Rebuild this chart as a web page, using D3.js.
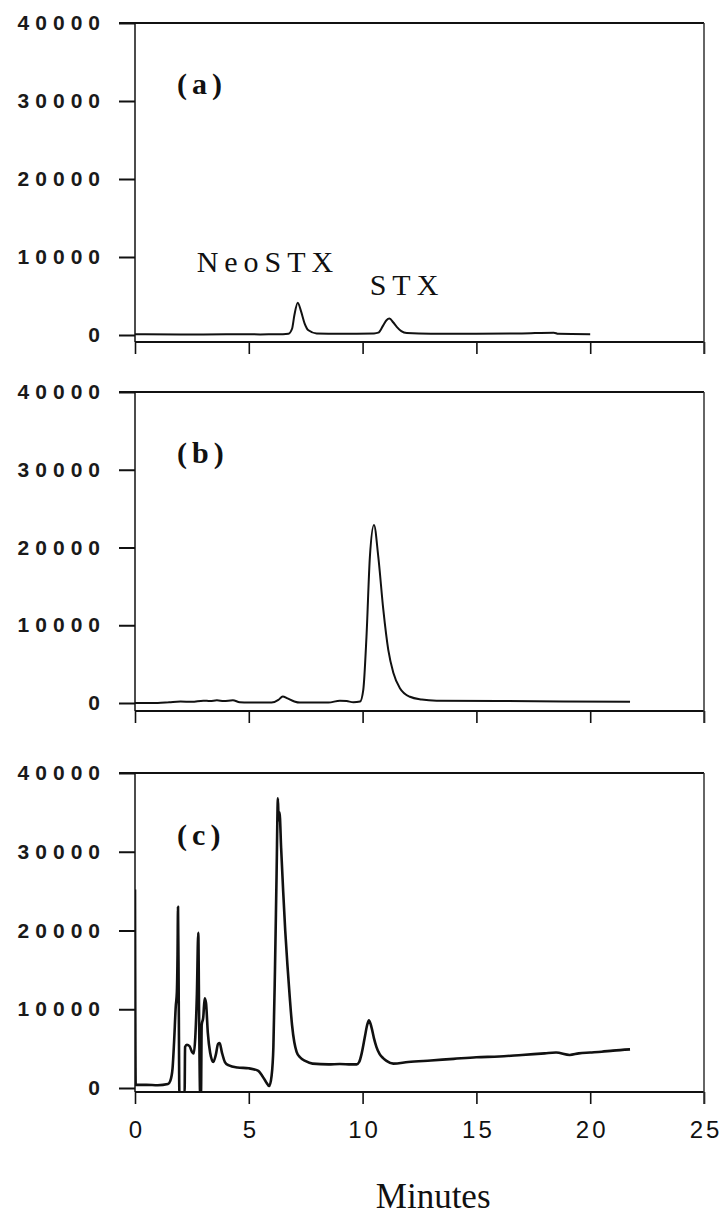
<!DOCTYPE html>
<html>
<head>
<meta charset="utf-8">
<script src="https://cdn.jsdelivr.net/npm/d3@7"></script>
<style>
  html, body { margin: 0; padding: 0; background: #fff; }
  svg { display: block; }
  .ylab text { font-family: "Liberation Sans", Arial, sans-serif; font-size: 21px; font-weight: bold; letter-spacing: 6px; fill: #1a1a1a; }
  .xlab text { font-family: "Liberation Sans", Arial, sans-serif; font-size: 24px; letter-spacing: 3px; fill: #111; }
  .tag { font-family: "Liberation Serif", "Times New Roman", serif; fill: #111; }
</style>
</head>
<body>
<svg id="chart" width="722" height="1217"></svg>
<script>
// Retention time axis (minutes) and detector response axis
const xTicks = [0, 5, 10, 15, 20, 25];
const yTicks = [0, 10000, 20000, 30000, 40000];
const panelNames = ["(a)", "(b)", "(c)"];
const peakNames = ["NeoSTX", "STX"];
const peakNameTimes = [5.71, 11.82];
const peakNameValues = [8100, 5150];

// (a) standard mixture: NeoSTX and STX
const traceA = [
  [0, 100], [2, 50], [4, 100], [5.5, 80], [6.5, 100], [6.74, 150], [6.9, 800], [7.0, 2500],
  [7.15, 4150], [7.3, 3000], [7.45, 1500], [7.62, 600], [7.98, 200], [9, 150], [10.5, 200],
  [10.69, 300], [10.9, 1200], [11.05, 1900], [11.18, 2100], [11.35, 1600], [11.5, 1050],
  [11.7, 500], [11.94, 250], [13, 150], [15, 150], [17, 200], [18.4, 300], [18.6, 150], [20, 100]
];

// (b) sample dominated by STX
const traceB = [
  [0, 0], [1.0, 0], [1.5, 100], [2.0, 200], [2.5, 150], [3.0, 300], [3.3, 250], [3.6, 350],
  [3.9, 250], [4.3, 350], [4.6, 100], [5.0, 50], [6.0, 50], [6.3, 400], [6.49, 850], [6.7, 600],
  [7.0, 200], [7.25, 50], [8.5, 50], [9.0, 300], [9.3, 250], [9.6, 100], [9.89, 200],
  [10.03, 1700], [10.17, 8500], [10.32, 18800], [10.5, 22900], [10.69, 18800], [10.91, 12000],
  [11.13, 6800], [11.35, 3900], [11.64, 1900], [12.08, 800], [12.6, 450], [13.25, 300],
  [16, 250], [21.75, 150]
];

// (c) extract with early-eluting interferences
const traceC = [
  [0, 25200], [0.03, 400], [0.5, 400], [1.0, 350], [1.45, 500],
  [1.55, 900], [1.65, 2500], [1.72, 6000], [1.79, 10300], [1.84, 12200], [1.87, 17000],
  [1.89, 23000], [1.92, 12000], [1.95, -600], [2.18, -600], [2.2, 5200], [2.28, 5500],
  [2.4, 5300], [2.5, 4600], [2.58, 4400], [2.65, 6500], [2.72, 12000], [2.78, 19700],
  [2.82, 8000], [2.86, -600], [2.9, -600], [2.93, 8000], [3.0, 9000], [3.06, 11400],
  [3.12, 10800], [3.2, 7000], [3.3, 4500], [3.44, 3300], [3.55, 4200], [3.65, 5600],
  [3.72, 5700], [3.82, 4500], [3.95, 3300], [4.1, 2900], [4.5, 2600], [5.0, 2500], [5.4, 2200],
  [5.6, 1500], [5.75, 800], [5.9, 250], [6.0, 1500], [6.08, 5200], [6.15, 15000], [6.22, 27000],
  [6.28, 36800], [6.31, 34000], [6.35, 35000], [6.42, 30500], [6.51, 25000], [6.6, 20000],
  [6.7, 15500], [6.8, 11500], [6.9, 8000], [7.0, 5800], [7.1, 4600], [7.25, 3900], [7.5, 3400],
  [7.8, 3100], [8.5, 3000], [9.0, 3050], [9.5, 3000], [9.74, 3000], [9.85, 3300], [9.96, 4400],
  [10.1, 6500], [10.2, 8000], [10.28, 8600], [10.4, 7600], [10.5, 6300], [10.61, 5200],
  [10.75, 4300], [10.9, 3800], [11.05, 3450], [11.35, 3100],
  [12, 3300], [13, 3500], [14, 3700], [15, 3900], [16, 4000], [17, 4200], [18, 4400],
  [18.5, 4500], [19.1, 4200], [19.5, 4400], [20, 4500], [20.5, 4600], [21, 4750], [21.75, 4900]
];

const traces = [traceA, traceB, traceC];

const svg = d3.select("#chart");
const left = 135, right = 704;
// per panel: pixel row of the 40000 line, of the zero line, and of the frame bottom
const panels = [
  { top: 23, zero: 335, bottom: 342, stroke: 2.0 },
  { top: 392, zero: 703, bottom: 711, stroke: 2.0 },
  { top: 773, zero: 1088, bottom: 1092, stroke: 2.6 }
];

const x = d3.scaleLinear().domain([0, 25]).range([left, right]);

panels.forEach((p, i) => {
  const y = d3.scaleLinear().domain([0, 40000]).range([p.zero, p.top]);
  const g = svg.append("g");

  // y axis ticks and labels
  const ya = g.append("g")
    .attr("class", "ylab")
    .attr("transform", `translate(${left},0)`)
    .call(d3.axisLeft(y).tickValues(yTicks).tickSize(16).tickPadding(13).tickFormat(d3.format("d")));
  ya.select(".domain").remove();
  ya.selectAll(".tick line").attr("stroke", "#111").attr("stroke-width", 2);

  // x axis ticks on the frame bottom
  const xa = g.append("g")
    .attr("class", "xlab")
    .attr("transform", `translate(0,${p.bottom})`)
    .call(d3.axisBottom(x).tickValues(xTicks).tickSize(12).tickPadding(17).tickFormat(d3.format("d")));
  xa.select(".domain").remove();
  xa.selectAll(".tick line").attr("stroke", "#111").attr("stroke-width", 1.6);
  xa.selectAll(".tick text").attr("dx", "1.5px");
  if (i < 2) xa.selectAll(".tick text").remove();

  // frame
  g.append("line").attr("x1", left - 16).attr("x2", right).attr("y1", p.top).attr("y2", p.top)
    .attr("stroke", "#111").attr("stroke-width", 2.2);
  g.append("line").attr("x1", left).attr("x2", right).attr("y1", p.bottom).attr("y2", p.bottom)
    .attr("stroke", "#111").attr("stroke-width", 2.2);
  g.append("line").attr("x1", left).attr("x2", left).attr("y1", p.top).attr("y2", p.bottom)
    .attr("stroke", "#111").attr("stroke-width", 1.5);
  g.append("line").attr("x1", right).attr("x2", right).attr("y1", p.top).attr("y2", p.bottom + 12)
    .attr("stroke", "#333").attr("stroke-width", 1.5);

  // trace, clipped to the frame
  const clipId = "clip" + i;
  svg.append("clipPath").attr("id", clipId)
    .append("rect").attr("x", left).attr("y", p.top).attr("width", right - left).attr("height", p.bottom - p.top);
  const line = d3.line().x(d => x(d[0])).y(d => y(d[1])).curve(d3.curveMonotoneX);
  g.append("path")
    .datum(traces[i])
    .attr("clip-path", `url(#${clipId})`)
    .attr("d", line)
    .attr("fill", "none")
    .attr("stroke", "#111")
    .attr("stroke-width", p.stroke)
    .attr("stroke-linejoin", "round");

  // panel tag
  g.append("text")
    .attr("class", "tag")
    .attr("x", x(1.85))
    .attr("y", y(30000) - 7)
    .attr("font-size", 30)
    .attr("font-weight", "bold")
    .attr("letter-spacing", "5px")
    .text(panelNames[i]);

  if (i === 0) {
    peakNames.forEach((name, k) => {
      g.append("text")
        .attr("class", "tag")
        .attr("x", x(peakNameTimes[k]) + 3)
        .attr("y", y(peakNameValues[k]))
        .attr("text-anchor", "middle")
        .attr("font-size", 30)
        .attr("letter-spacing", "6px")
        .text(name);
    });
  }
});

// shared x axis title
svg.append("text")
  .attr("class", "tag")
  .attr("x", x(13.1))
  .attr("y", 1208)
  .attr("text-anchor", "middle")
  .attr("font-size", 35)
  .text("Minutes");
</script>
</body>
</html>
